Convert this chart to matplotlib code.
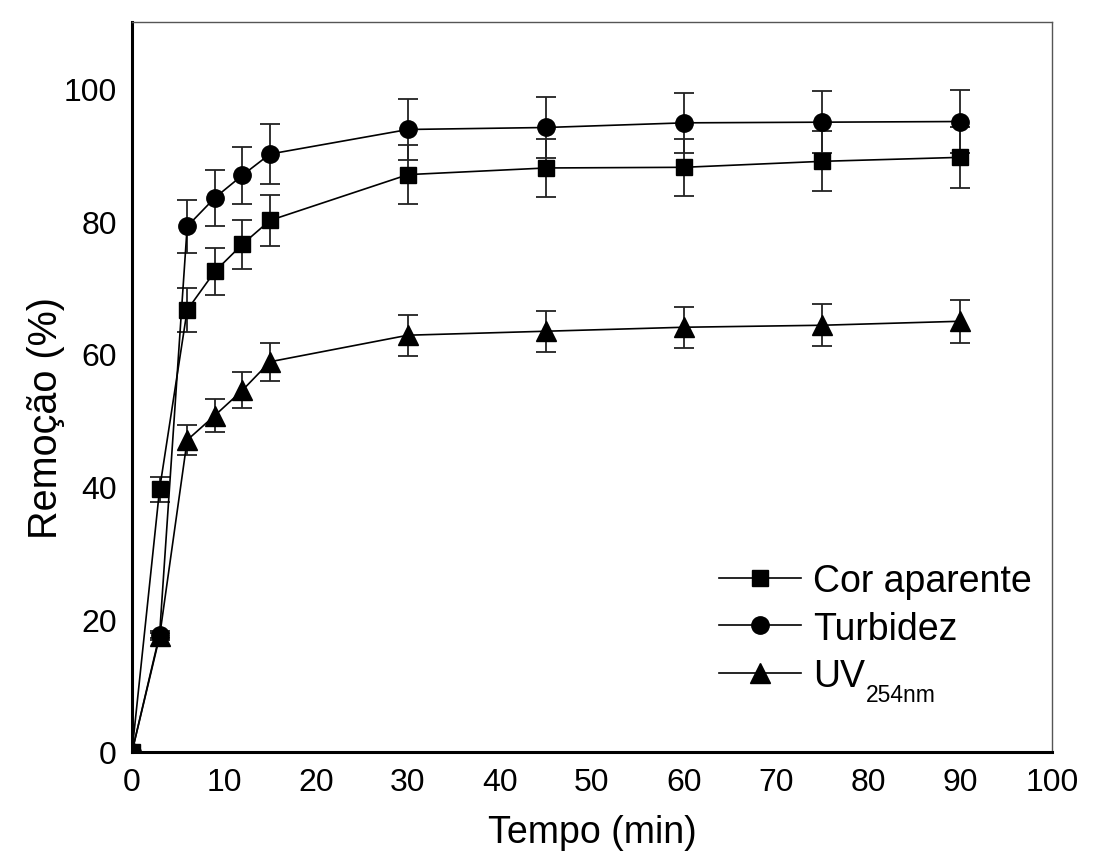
import matplotlib
matplotlib.use("Agg")
import matplotlib.pyplot as plt

plt.rcParams['font.family'] = ['Liberation Sans', 'DejaVu Sans']

# Sampling times (min)
tempo = [0, 3, 6, 9, 12, 15, 30, 45, 60, 75, 90]

# Removal (%) and standard deviation for each parameter
cor_aparente = [0, 39.6, 66.6, 72.4, 76.5, 80.1, 87.0, 88.0, 88.1, 89.0, 89.6]
cor_aparente_dp = [0, 1.9, 3.3, 3.6, 3.7, 3.9, 4.4, 4.4, 4.3, 4.5, 4.6]

turbidez = [0, 17.7, 79.2, 83.5, 86.9, 90.1, 93.8, 94.1, 94.8, 94.9, 95.0]
turbidez_dp = [0, 0.5, 4.0, 4.2, 4.3, 4.5, 4.6, 4.6, 4.5, 4.7, 4.8]

uv254 = [0, 17.4, 47.0, 50.7, 54.5, 58.8, 62.8, 63.4, 64.0, 64.3, 64.9]
uv254_dp = [0, 0.5, 2.3, 2.5, 2.7, 2.9, 3.1, 3.1, 3.1, 3.2, 3.2]

series = [
    (cor_aparente, cor_aparente_dp, 's', 11, 'Cor aparente'),
    (turbidez, turbidez_dp, 'o', 12.5, 'Turbidez'),
    (uv254, uv254_dp, '^', 14, 'UV'),
]

fig = plt.figure(figsize=(10.99, 8.54), dpi=100)
ax = fig.add_axes([0.1201, 0.1183, 0.8371, 0.8548])

for y, err, mk, ms, lab in series:
    ax.errorbar(tempo, y, yerr=err, fmt='none', ecolor='#222222',
                elinewidth=1.3, capsize=7.5, capthick=1.3, zorder=2)
    ax.plot(tempo, y, color='black', lw=1.2, marker=mk, markersize=ms,
            markerfacecolor='black', markeredgecolor='black', label=lab,
            zorder=3)

ax.set_xlim(0, 100)
ax.set_ylim(0, 110)
ax.set_xticks(range(0, 101, 10))
ax.set_yticks(range(0, 101, 20))
ax.tick_params(axis='both', length=0, labelsize=23, pad=11)

for side in ('left', 'bottom'):
    ax.spines[side].set_linewidth(2.2)
    ax.spines[side].set_color('black')
for side in ('top', 'right'):
    ax.spines[side].set_linewidth(1.0)
    ax.spines[side].set_color('#555555')

ax.set_xlabel('Tempo (min)', fontsize=27, labelpad=12)
ax.set_ylabel('Remoção (%)', fontsize=28.5)
ax.yaxis.label.set_va('center')
ax.yaxis.set_label_coords(-0.094, 0.459)

leg = ax.legend(loc='center left', bbox_to_anchor=(0.638, 0.169),
                frameon=False, fontsize=27, handlelength=2.2,
                handletextpad=0.3, labelspacing=0.30, borderpad=0,
                borderaxespad=0)

# Subscript for the UV entry, placed right after its legend text
fig.canvas.draw()
uv_text = leg.get_texts()[2]
bb = uv_text.get_window_extent()
fw, fh = fig.get_size_inches() * fig.dpi
fig.text((bb.x1 + 1) / fw, (bb.y0 - 12) / fh, '254nm', fontsize=16.5,
         ha='left', va='bottom')

fig.savefig('out.png', dpi=100, facecolor='white')
